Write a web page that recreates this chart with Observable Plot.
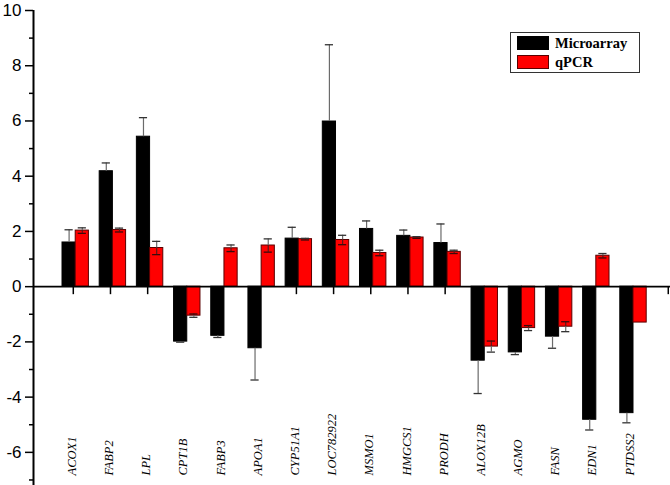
<!DOCTYPE html>
<html><head><meta charset="utf-8">
<script src="https://cdn.jsdelivr.net/npm/d3@7"></script>
<script src="https://cdn.jsdelivr.net/npm/@observablehq/plot@0.6"></script>
<style>
body{margin:0;background:#fff;}
#wrap{position:relative;width:670px;height:485px;}
#legend{position:absolute;left:510px;top:32px;width:128px;height:39px;border:1px solid #333;background:#fff;
 font-family:"Liberation Serif","Times New Roman",serif;font-weight:bold;font-size:14.5px;color:#000;}
#legend .row{position:absolute;left:6px;height:15px;line-height:15px;}
#legend .sw{display:inline-block;width:32px;height:14px;vertical-align:top;box-sizing:border-box;margin-right:6px;}
</style></head><body><div id="wrap"></div>
<script>
const genes = ["ACOX1","FABP2","LPL","CPT1B","FABP3","APOA1","CYP51A1","LOC782922","MSMO1","HMGCS1","PRODH","ALOX12B","AGMO","FASN","EDN1","PTDSS2"];
const microarray    = [1.60, 4.18, 5.43, -1.99, -1.78, -2.23, 1.74, 5.98, 2.09, 1.84, 1.58, -2.68, -2.38, -1.81, -4.82, -4.58];
const microarrayErr = [0.46, 0.30, 0.69, 0.02, 0.06, 1.15, 0.41, 2.78, 0.29, 0.21, 0.69, 1.19, 0.08, 0.42, 0.37, 0.35];
const qpcr          = [2.03, 2.05, 1.40, -1.05, 1.39, 1.49, 1.72, 1.69, 1.22, 1.78, 1.26, -2.17, -1.50, -1.45, 1.12, -1.30];
const qpcrErr       = [0.10, 0.07, 0.24, 0.06, 0.12, 0.24, 0.03, 0.17, 0.10, 0.03, 0.06, 0.20, 0.09, 0.18, 0.08, 0.00];
const seriesNames = ["Microarray", "qPCR"];
const seriesFill = ["#000000", "#ff0000"];
const seriesStroke = ["#000000", "#5a0000"];
const yTicks = [-6, -4, -2, 0, 2, 4, 6, 8, 10];
const yMinor = [-7, -5, -3, -1, 1, 3, 5, 7, 9];
const xTicks = d3.range(1, 18);

// bar extents relative to each category tick (in x-scale units)
const barSpan = [[-0.29, 0.065], [0.065, 0.42]];

const rows = genes.flatMap((g, i) => [
  {gene: g, pos: i + 1, s: 0, value: microarray[i], err: microarrayErr[i]},
  {gene: g, pos: i + 1, s: 1, value: qpcr[i], err: qpcrErr[i]}
]);
const mid = d => d.pos + (barSpan[d.s][0] + barSpan[d.s][1]) / 2;
const sgn = d => Math.sign(d.value);
const errRows = rows.filter(d => d.err > 0);

const plot = Plot.plot({
  width: 670, height: 485,
  marginTop: 10, marginBottom: 0, marginLeft: 33, marginRight: 0,
  style: {fontFamily: "'Liberation Sans', Arial, sans-serif", fontSize: "17px", background: "#fff", color: "#000"},
  x: {domain: [-0.07, 17.06], axis: null},
  y: {domain: [-7.2, 10], axis: null},
  marks: [
    Plot.rectY(rows, {
      x1: d => d.pos + barSpan[d.s][0], x2: d => d.pos + barSpan[d.s][1],
      y1: 0, y2: "value",
      fill: d => seriesFill[d.s], stroke: d => seriesStroke[d.s], strokeWidth: 1
    }),
    // error bars: outer part (gray) and inner part
    Plot.ruleX(errRows, {x: mid, y1: "value", y2: d => d.value + sgn(d) * d.err, stroke: "#6b6b6b", strokeWidth: 1.2}),
    Plot.ruleX(errRows.filter(d => d.s === 1), {x: mid, y1: "value", y2: d => d.value - sgn(d) * d.err, stroke: "#5a1a1a", strokeWidth: 1.2}),
    Plot.ruleY(errRows, {y: d => d.value + sgn(d) * d.err, x1: d => mid(d) - 0.11, x2: d => mid(d) + 0.11, stroke: "#333", strokeWidth: 1.3}),
    Plot.ruleY(errRows.filter(d => d.s === 1), {y: d => d.value - sgn(d) * d.err, x1: d => mid(d) - 0.11, x2: d => mid(d) + 0.11, stroke: "#3a0a0a", strokeWidth: 1.3}),
    // zero line and category ticks
    Plot.ruleY([0], {strokeWidth: 1.6, stroke: "#000"}),
    Plot.ruleX(xTicks, {x: d => d, y1: 0, y2: -0.29, strokeWidth: 1.5, stroke: "#000"}),
    // y axis
    Plot.ruleX([-0.07], {strokeWidth: 2, stroke: "#000"}),
    Plot.axisY({ticks: yTicks, tickSize: 8, tickPadding: 4, strokeWidth: 1.5, tickFormat: d => String(d),
      label: null, fontSize: 17, fontFamily: "'Liberation Sans', Arial, sans-serif", fill: "#000"}),
    Plot.axisY({ticks: yMinor, tickSize: 4, strokeWidth: 1.5, text: null, label: null}),
    // gene labels
    Plot.text(genes, {
      x: (d, i) => i + 1.07, frameAnchor: "bottom", dy: -10,
      rotate: -90, textAnchor: "start", text: d => d,
      fontStyle: "italic", fontFamily: "'Liberation Serif', 'Times New Roman', serif", fontSize: 12.5, fill: "#000"
    })
  ]
});
const wrap = document.getElementById("wrap");
wrap.appendChild(plot);

const legend = document.createElement("div");
legend.id = "legend";
seriesNames.forEach((name, i) => {
  const row = document.createElement("div");
  row.className = "row";
  row.style.top = (3 + i * 19) + "px";
  const sw = document.createElement("span");
  sw.className = "sw";
  sw.style.background = seriesFill[i];
  sw.style.border = "1px solid " + seriesStroke[i];
  row.appendChild(sw);
  row.appendChild(document.createTextNode(name));
  legend.appendChild(row);
});
wrap.appendChild(legend);
</script>
</body></html>
